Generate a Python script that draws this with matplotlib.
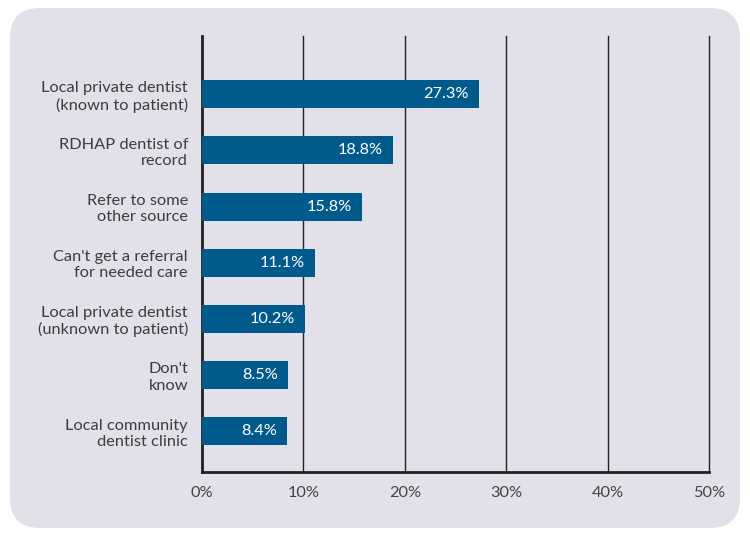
import matplotlib.pyplot as plt
from matplotlib.patches import FancyBboxPatch

categorias = ['Local private dentist\n(known to patient)', 'RDHAP dentist of\nrecord',
              'Refer to some\nother source', "Can't get a referral\nfor needed care",
              'Local private dentist\n(unknown to patient)', "Don't\nknow",
              'Local community\ndentist clinic']
valores = [27.3, 18.8, 15.8, 11.1, 10.2, 8.5, 8.4]
ticks = [0, 10, 20, 30, 40, 50]
tick_labels = ['0%', '10%', '20%', '30%', '40%', '50%']

plt.rcParams['font.family'] = ['Lato', 'DejaVu Sans']

fig = plt.figure(figsize=(7.5, 5.36), dpi=100)
fundo = FancyBboxPatch((10 / 750, 8 / 536), 730 / 750, 520 / 536,
                       boxstyle='round,pad=0,rounding_size=0.04',
                       transform=fig.transFigure, facecolor='#e2e1e9', edgecolor='none',
                       mutation_aspect=750 / 536, zorder=-10)
fig.patches.append(fundo)

ax = fig.add_axes([202 / 750, 64 / 536, 507 / 750, 436 / 536])
ax.set_facecolor('none')
ax.set_zorder(5)

y = list(range(len(valores)))
ax.barh(y, valores, height=0.5, color='#005a8c', zorder=3)
for i, v in enumerate(valores):
    ax.text(v - 1.0, i, f'{v}%', color='white', ha='right', va='center', fontsize=11.8, zorder=4)

ax.set_xlim(0, 50)
ax.set_ylim(6.73, -1.04)
ax.set_xticks(ticks)
ax.set_xticklabels(tick_labels, fontsize=11.8, color='#444444')
ax.set_yticks(y)
ax.set_yticklabels(categorias, fontsize=11.8, color='#3d3d3d', linespacing=1.2)
ax.tick_params(axis='both', length=0)
ax.tick_params(axis='y', pad=10)
ax.tick_params(axis='x', pad=10)
ax.grid(axis='x', color='#222222', lw=1, zorder=1)
for linha in ax.get_xgridlines():
    linha.set_clip_on(False)
for lado in ['top', 'right']:
    ax.spines[lado].set_visible(False)
ax.spines['left'].set_linewidth(2)
ax.spines['bottom'].set_linewidth(2)
ax.spines['left'].set_color('#222222')
ax.spines['bottom'].set_color('#222222')

fig.savefig('out.png', dpi=100, facecolor='white')
